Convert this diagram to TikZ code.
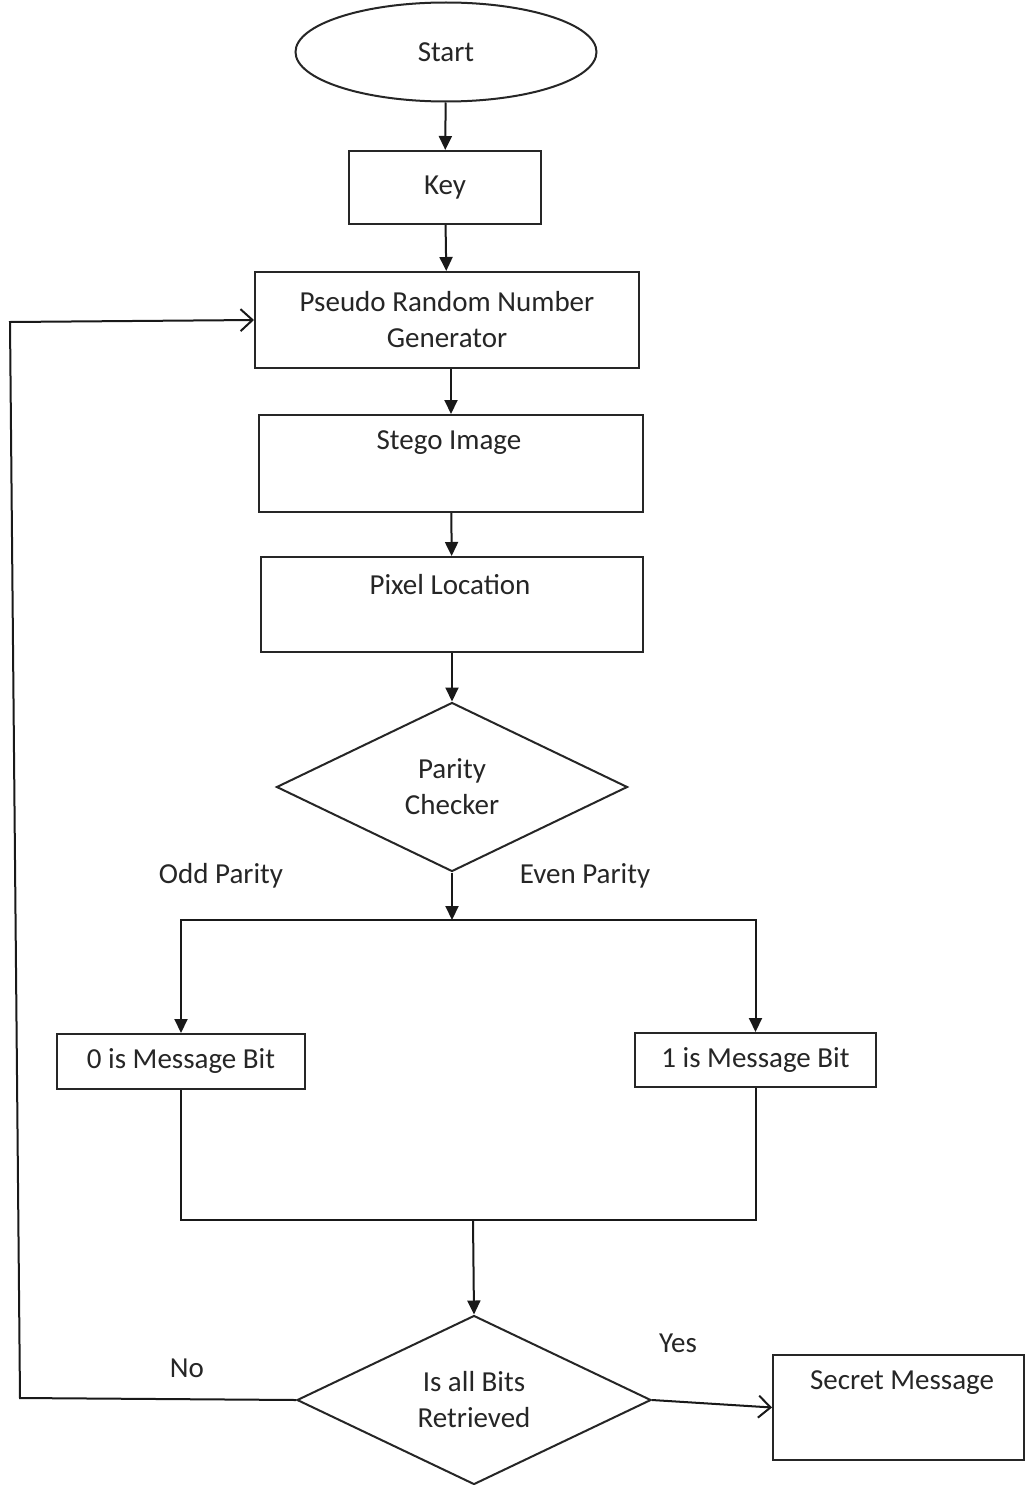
\documentclass[tikz,border=0pt]{standalone}
\usepackage{fontspec}
\setmainfont{Carlito}
\usetikzlibrary{shapes.geometric,arrows.meta}
\begin{document}
\begin{tikzpicture}[x=1pt,y=-1pt,
  every node/.style={font=\fontsize{29}{36}\selectfont, text=black!85},
  box/.style={draw=black!85, line width=2pt, rectangle, inner sep=0pt},
  dia/.style={draw=black!85, line width=2pt, diamond, inner sep=0pt, aspect=2.08, align=center},
  lbl/.style={inner sep=0pt},
  ln/.style={draw=black!90, line width=2pt},
  arr/.style={ln, -{Triangle[length=14pt,width=13pt]}},
  oarr/.style={ln, -{Straight Barb[length=12pt,width=22pt,line width=2pt]}}]
\useasboundingbox (0,0) rectangle (1026,1485);
\fill[white] (0,0) rectangle (1026,1485);

\node[draw=black!85, line width=2pt, ellipse, minimum width=301pt, minimum height=99pt, inner sep=0pt] (start) at (446,52) {Start};
\node[box, minimum width=192pt, minimum height=73pt] (key) at (445,187.5) {Key};
\node[box, minimum width=384pt, minimum height=96pt, align=center] (prng) at (447,320) {Pseudo Random Number\\Generator};
\node[box, minimum width=384pt, minimum height=97pt] (stego) at (451,463.5) {};
\node[lbl] (stegoT) at (449,443) {Stego Image};
\node[box, minimum width=382pt, minimum height=95pt] (pixel) at (452,604.5) {};
\node[lbl] (pixelT) at (450,585) {Pixel Location};
\node[dia, minimum width=351pt, minimum height=169pt] (parity) at (452,787) {Parity\\Checker};
\node[lbl] (odd) at (221,876) {Odd Parity};
\node[lbl] (even) at (585,876) {Even Parity};
\coordinate (j1) at (452,920);
\node[box, minimum width=248pt, minimum height=55pt] (zero) at (181,1061.5) {0 is Message Bit};
\node[box, minimum width=241pt, minimum height=54pt] (one) at (755.5,1060) {1 is Message Bit};
\coordinate (j2) at (473,1220);
\node[dia, minimum width=354pt, minimum height=169pt] (bits) at (474,1400) {Is all Bits\\Retrieved};
\node[lbl] (no) at (187,1368) {No};
\node[lbl] (yes) at (678,1343) {Yes};
\node[box, minimum width=251pt, minimum height=105pt] (secret) at (898.5,1407.5) {};
\node[lbl] (secretT) at (902,1383) {Secret Message};
\coordinate (c1) at (20,1398);
\coordinate (c2) at (10,322);

\draw[arr] (start) -- (key);
\draw[arr] (key) -- (prng);
\draw[arr] (prng.south -| stego.north) -- (stego);
\draw[arr] (stego) -- (pixel);
\draw[arr] (pixel) -- (parity);
\draw[arr] (parity.south) -- (j1);
\draw[arr] (j1) -| (zero.north);
\draw[arr] (j1) -| (one.north);
\draw[ln] (zero.south) |- (j2);
\draw[ln] (one.south) |- (j2);
\draw[arr] (j2) -- (bits.north);
\draw[oarr] (bits.west) -- (c1) -- (c2) -- (prng.west);
\draw[oarr] (bits.east) -- (secret.west);
\end{tikzpicture}
\end{document}
